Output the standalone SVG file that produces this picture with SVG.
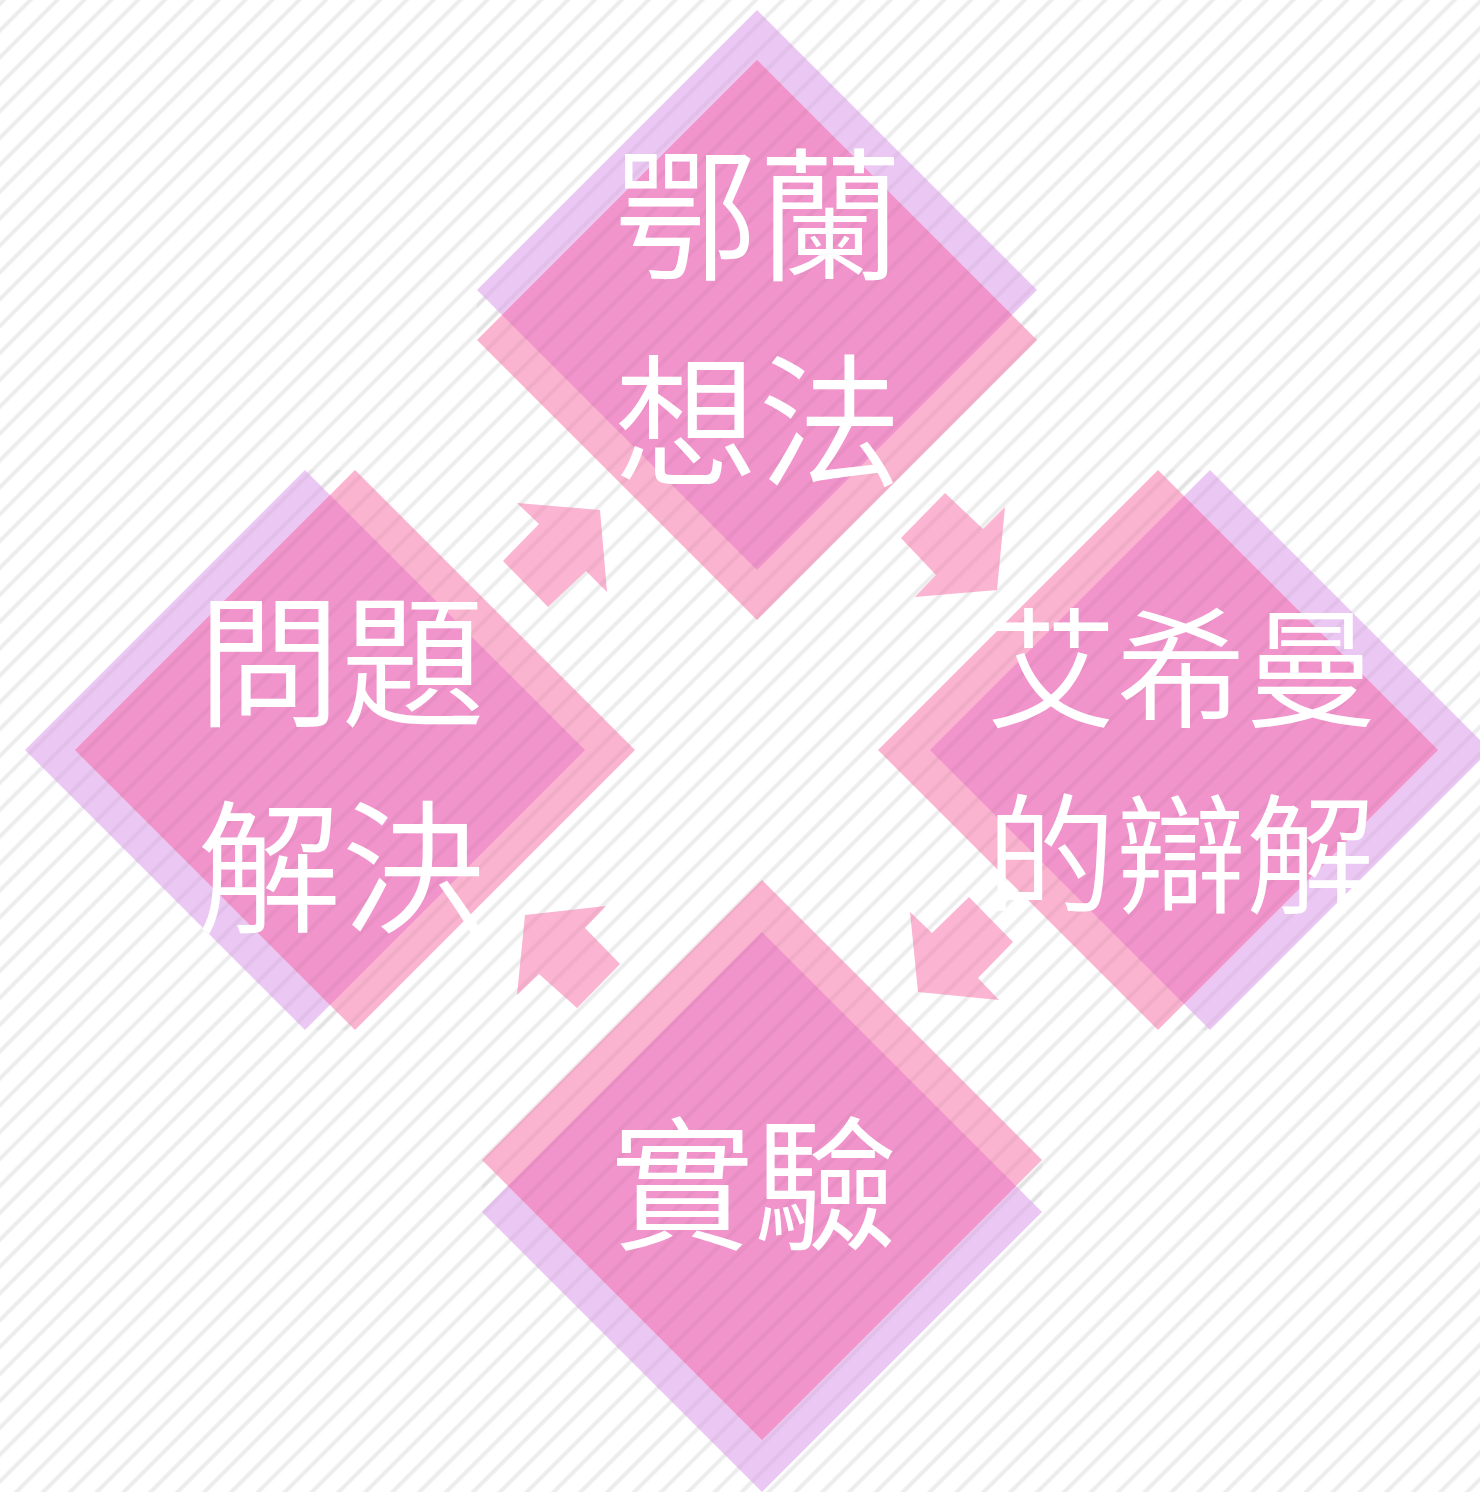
<svg xmlns="http://www.w3.org/2000/svg" xmlns:xlink="http://www.w3.org/1999/xlink" width="1480" height="1492" viewBox="0 0 1480 1492">
  <defs>
    <pattern id="stripes" patternUnits="userSpaceOnUse" width="19" height="19" patternTransform="rotate(-45)">
      <rect x="0" y="0" width="19" height="5" fill="#000" fill-opacity="0.035"/>
      <rect x="0" y="1" width="19" height="3" fill="#000" fill-opacity="0.04"/>
    </pattern>
    <pattern id="stripes-in" patternUnits="userSpaceOnUse" width="19" height="19" patternTransform="rotate(-45)">
      <rect x="0" y="0" width="19" height="5" fill="#000" fill-opacity="0.02"/>
      <rect x="0" y="1" width="19" height="3" fill="#000" fill-opacity="0.025"/>
    </pattern>
    <style>
      .purple { fill: #ebc8f3; }
      .pink { fill: #fbb4d0; }
      .overlap { fill: #f194cc; }
      .arrow { fill: #fbb4d1; }
      .ov { fill: url(#stripes-in); }
      .label { fill: #ffffff; font-family: "Noto Sans CJK TC", "Noto Sans CJK SC", "Noto Sans", sans-serif; font-weight: 350; text-anchor: middle; }
    </style>
  </defs>

  <rect x="0" y="0" width="1480" height="1492" fill="#ffffff"/>
  <rect x="0" y="0" width="1480" height="1492" fill="url(#stripes)"/>

  <g id="node-top">
    <polygon class="purple" points="757,10 1037,290 757,570 477,290"/>
    <polygon class="pink" points="757,60 1037,340 757,620 477,340"/>
    <polygon class="overlap" points="757,60 1012,315 757,570 502,315"/>
    <polygon class="ov" points="757,10 1037,290 1037,340 757,620 477,340 477,290"/>
    <text class="label" x="758" y="270" font-size="144">鄂蘭</text>
    <text class="label" x="758" y="476" font-size="144">想法</text>
  </g>

  <g id="node-right">
    <polygon class="purple" points="1210,470 1490,750 1210,1030 930,750"/>
    <polygon class="pink" points="1158,470 1438,750 1158,1030 878,750"/>
    <polygon class="overlap" points="1184,496 1438,750 1184,1004 930,750"/>
    <polygon class="ov" points="1158,470 1210,470 1490,750 1210,1030 1158,1030 878,750"/>
    <text class="label" x="1181" y="717" font-size="130">艾希曼</text>
    <text class="label" x="1181" y="903" font-size="130">的辯解</text>
  </g>

  <g id="node-bottom">
    <polygon class="purple" points="762,932 1042,1212 762,1492 482,1212"/>
    <polygon class="pink" points="762,880 1042,1160 762,1440 482,1160"/>
    <polygon class="overlap" points="762,932 1016,1186 762,1440 508,1186"/>
    <polygon class="ov" points="762,880 1042,1160 1042,1212 762,1492 482,1212 482,1160"/>
    <text class="label" x="754" y="1239" font-size="144">實驗</text>
  </g>

  <g id="node-left">
    <polygon class="purple" points="305,470 585,750 305,1030 25,750"/>
    <polygon class="pink" points="355,470 635,750 355,1030 75,750"/>
    <polygon class="overlap" points="330,495 585,750 330,1005 75,750"/>
    <polygon class="ov" points="305,470 355,470 635,750 355,1030 305,1030 25,750"/>
    <text class="label" x="341" y="716" font-size="144">問題</text>
    <text class="label" x="341" y="922" font-size="144">解決</text>
  </g>

  <g id="connectors">
    <g class="arrow">
      <g id="arrow-shapes">
        <polygon id="arrow-left-top" points="517,503 600,510 607,592 586,571 548,607 503,561 539,524"/>
        <polygon id="arrow-top-right" points="945,493 983,529 1005,507 997,590 915,597 936,575 901,538"/>
        <polygon id="arrow-right-bottom" points="969,897 1013,942 978,978 999,1000 918,992 910,912 932,933"/>
        <polygon id="arrow-bottom-left" points="606,906 585,928 620,964 577,1008 539,974 517,995 525,915"/>
      </g>
    </g>
    <use href="#arrow-shapes" xlink:href="#arrow-shapes" fill="url(#stripes-in)"/>
  </g>
</svg>
